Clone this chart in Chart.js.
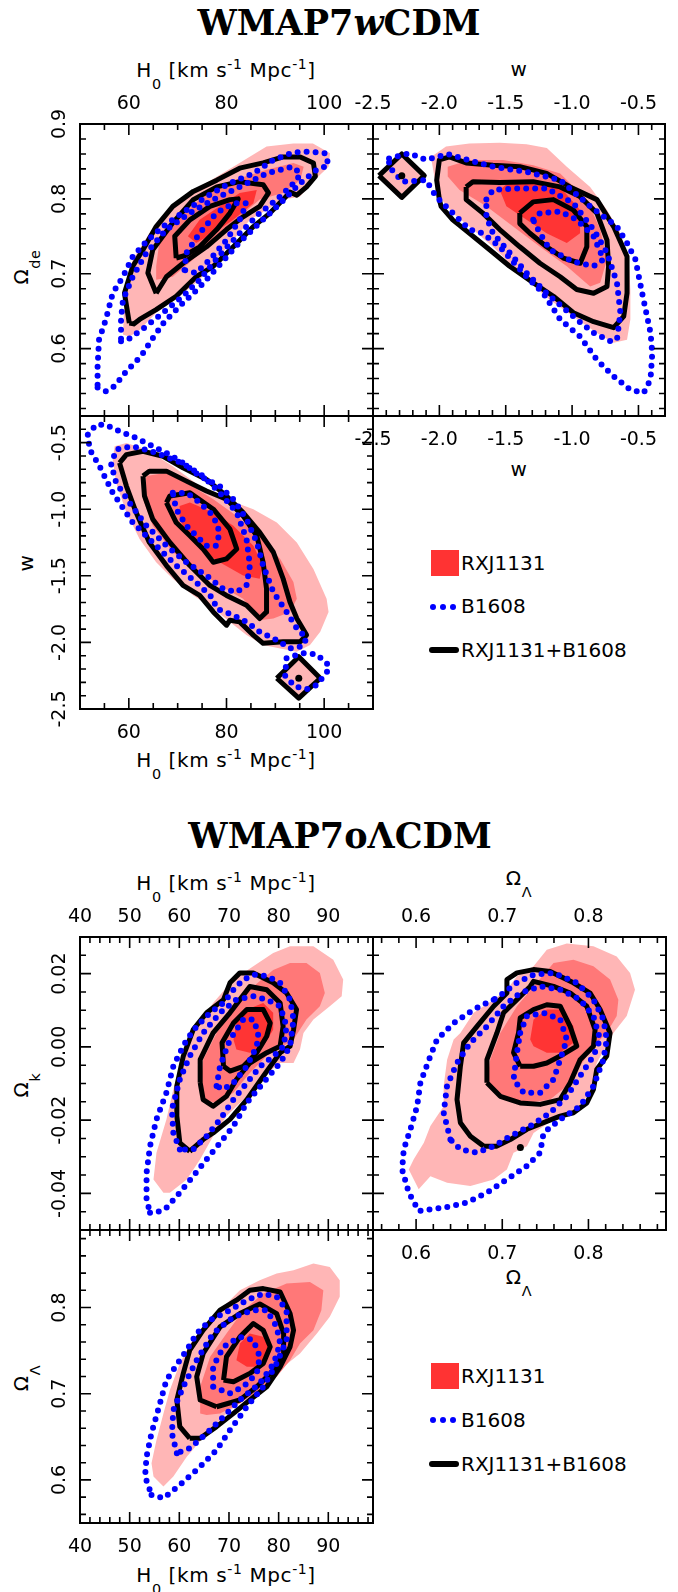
<!DOCTYPE html>
<html>
<head>
<meta charset="utf-8">
<script src="https://cdn.jsdelivr.net/npm/chart.js@4.4.1/dist/chart.umd.min.js"></script>
<style>
html, body { margin: 0; padding: 0; background: #fff; }
body { width: 678px; height: 1592px; position: relative; overflow: hidden; font-family: "DejaVu Sans", sans-serif; color: #000; }
canvas { position: absolute; }
.t { position: absolute; white-space: nowrap; line-height: 1; transform: translate(-50%, -50%); }
.title { font-family: "DejaVu Serif", serif; font-weight: bold; font-size: 35px; }
.ax { font-size: 20px; letter-spacing: 0.6px; }
.rot { transform: translate(-50%, -50%) rotate(-90deg); }
.lt { transform: translate(0, -50%); font-size: 20px; }
.sb { position: relative; top: 0.85em; font-size: 0.72em; }
.sp { position: relative; top: -0.55em; font-size: 0.7em; }
.sq { position: absolute; width: 28px; height: 26px; background: #ff3333; }
.dot { position: absolute; width: 6px; height: 6px; border-radius: 3px; background: #0000ff; }
.bar { position: absolute; width: 30px; height: 5.5px; border-radius: 3px; background: #000; }
</style>
</head>
<body>

<div class="t title" style="left:339px;top:22px">WMAP7<i>w</i>CDM</div>
<div class="t title" style="left:340px;top:835px">WMAP7oΛCDM</div>

<!-- axis titles, top figure -->
<div class="t ax" style="left:226px;top:70px">H<span class="sb">0</span> [km s<span class="sp">-1</span> Mpc<span class="sp">-1</span>]</div>
<div class="t ax" style="left:519px;top:69px">w</div>
<div class="t ax" style="left:519px;top:469px">w</div>
<div class="t ax" style="left:226px;top:760px">H<span class="sb">0</span> [km s<span class="sp">-1</span> Mpc<span class="sp">-1</span>]</div>
<div class="t ax rot" style="left:21px;top:267px">Ω<span class="sb">de</span></div>
<div class="t ax rot" style="left:26px;top:563px">w</div>

<!-- axis titles, bottom figure -->
<div class="t ax" style="left:226px;top:883px">H<span class="sb">0</span> [km s<span class="sp">-1</span> Mpc<span class="sp">-1</span>]</div>
<div class="t ax" style="left:519px;top:878px">Ω<span class="sb">Λ</span></div>
<div class="t ax" style="left:519px;top:1277px">Ω<span class="sb">Λ</span></div>
<div class="t ax" style="left:226px;top:1575px">H<span class="sb">0</span> [km s<span class="sp">-1</span> Mpc<span class="sp">-1</span>]</div>
<div class="t ax rot" style="left:21px;top:1085px">Ω<span class="sb">k</span></div>
<div class="t ax rot" style="left:21px;top:1378px">Ω<span class="sb">Λ</span></div>

<!-- legends -->
<div class="sq" style="left:431px;top:550px"></div>
<div class="t lt" style="left:461px;top:563px">RXJ1131</div>
<div class="dot" style="left:430px;top:604px"></div>
<div class="dot" style="left:440px;top:604px"></div>
<div class="dot" style="left:450px;top:604px"></div>
<div class="t lt" style="left:461px;top:606px">B1608</div>
<div class="bar" style="left:429px;top:647px"></div>
<div class="t lt" style="left:461px;top:650px">RXJ1131+B1608</div>

<div class="sq" style="left:431px;top:1363px"></div>
<div class="t lt" style="left:461px;top:1376px">RXJ1131</div>
<div class="dot" style="left:430px;top:1417px"></div>
<div class="dot" style="left:440px;top:1417px"></div>
<div class="dot" style="left:450px;top:1417px"></div>
<div class="t lt" style="left:461px;top:1420px">B1608</div>
<div class="bar" style="left:429px;top:1461px"></div>
<div class="t lt" style="left:461px;top:1464px">RXJ1131+B1608</div>

<canvas id="pA"></canvas>
<canvas id="pB"></canvas>
<canvas id="pC"></canvas>
<canvas id="pD"></canvas>
<canvas id="pE"></canvas>
<canvas id="pF"></canvas>

<script>
// Major tick labels
const H0_MAJOR_W = [60, 80, 100];
const ODE_MAJOR = [0.6, 0.7, 0.8, 0.9];
const W_MAJOR = [-2.5, -2.0, -1.5, -1.0, -0.5];
const H0_MAJOR_O = [40, 50, 60, 70, 80, 90];
const OK_MAJOR = [-0.04, -0.02, 0.0, 0.02];
const OL_MAJOR = [0.6, 0.7, 0.8];

// Contours: RX = RXJ1131 (filled), B = B1608 (dotted), C = combined (solid); 1 = inner, 3 = outer
// WMAP7wCDM: H0 vs Omega_de
const A_RX1 = [[72.1,0.750],[74.5,0.772],[78.6,0.790],[82.7,0.808],[86.2,0.812],[85.5,0.794],[81.4,0.772],[77.3,0.754],[73.8,0.741]];
const A_RX2 = [[65.6,0.692],[65.6,0.710],[66.3,0.745],[70.4,0.776],[75.2,0.803],[81.4,0.825],[88.2,0.839],[93.7,0.848],[95.8,0.843],[95.1,0.825],[91.6,0.808],[86.8,0.799],[82.7,0.776],[78.0,0.750],[73.2,0.719],[69.0,0.696]];
const A_RX3 = [[58.8,0.619],[59.1,0.665],[60.8,0.719],[64.2,0.754],[69.0,0.790],[74.5,0.816],[81.4,0.843],[88.2,0.870],[93.7,0.874],[97.7,0.874],[101.2,0.861],[100.9,0.843],[98.0,0.825],[95.0,0.803],[91.6,0.799],[88.2,0.785],[84.8,0.772],[81.4,0.745],[77.3,0.714],[74.5,0.692],[70.4,0.670],[65.6,0.648],[62.2,0.625],[60.1,0.616]];
const A_B1 = [[71.4,0.705],[71.8,0.728],[74.5,0.754],[77.9,0.781],[81.4,0.794],[84.1,0.794],[82.7,0.772],[80.0,0.745],[76.6,0.719],[73.8,0.701]];
const A_B2 = [[58.4,0.610],[59.8,0.612],[63.6,0.630],[67.0,0.648],[71.1,0.670],[74.5,0.692],[78.6,0.725],[82.7,0.754],[86.8,0.781],[90.3,0.799],[94.4,0.825],[95.1,0.834],[93.5,0.843],[88.2,0.834],[82.7,0.816],[77.3,0.799],[72.5,0.781],[67.7,0.759],[63.6,0.728],[60.8,0.696],[58.8,0.665],[58.4,0.639]];
const A_B3 = [[53.6,0.548],[55.3,0.543],[57.1,0.550],[59.5,0.570],[61.5,0.583],[62.9,0.594],[64.9,0.614],[67.3,0.636],[71.1,0.661],[74.5,0.682],[78.6,0.712],[82.7,0.742],[86.8,0.768],[91.0,0.794],[95.1,0.821],[98.5,0.839],[100.9,0.845],[100.2,0.861],[97.1,0.863],[93.7,0.862],[89.6,0.852],[85.5,0.834],[80.7,0.821],[75.9,0.803],[71.8,0.785],[67.0,0.763],[63.6,0.743],[60.8,0.723],[58.8,0.696],[56.7,0.674],[55.3,0.639],[53.9,0.612],[53.6,0.576]];
const A_C1 = [[69.7,0.721],[69.4,0.750],[72.5,0.772],[76.6,0.790],[80.7,0.799],[82.4,0.800],[80.7,0.781],[78.0,0.759],[74.5,0.736],[71.4,0.724]];
const A_C2 = [[65.6,0.674],[63.9,0.701],[64.9,0.732],[69.0,0.768],[73.2,0.799],[78.0,0.816],[82.7,0.823],[87.5,0.819],[88.6,0.808],[86.8,0.790],[83.4,0.776],[80.0,0.759],[75.9,0.736],[71.1,0.714],[67.7,0.696]];
const A_C3 = [[60.1,0.634],[59.1,0.674],[60.8,0.710],[62.9,0.732],[65.6,0.763],[69.0,0.790],[73.2,0.810],[78.0,0.825],[82.7,0.841],[87.5,0.848],[91.6,0.856],[95.1,0.856],[97.8,0.848],[98.2,0.830],[96.4,0.816],[94.4,0.805],[93.0,0.809],[91.6,0.799],[88.9,0.781],[85.5,0.763],[81.4,0.736],[77.3,0.710],[73.8,0.696],[69.7,0.670],[65.6,0.652],[62.2,0.639],[61.0,0.633]];

// WMAP7wCDM: w vs Omega_de
const B_RX1 = [[-1.545,0.812],[-1.47,0.823],[-1.293,0.825],[-1.09,0.816],[-0.94,0.785],[-0.94,0.754],[-1.04,0.741],[-1.192,0.754],[-1.343,0.772],[-1.495,0.790]];
const B_RX2 = [[-1.937,0.843],[-1.773,0.852],[-1.52,0.852],[-1.293,0.845],[-1.09,0.834],[-0.889,0.799],[-0.788,0.759],[-0.737,0.719],[-0.788,0.688],[-0.864,0.683],[-1.04,0.710],[-1.242,0.736],[-1.444,0.763],[-1.646,0.790],[-1.848,0.812],[-1.937,0.830]];
const B_RX3 = [[-2.063,0.856],[-1.95,0.870],[-1.773,0.874],[-1.545,0.875],[-1.343,0.873],[-1.19,0.868],[-1.04,0.843],[-0.864,0.816],[-0.737,0.785],[-0.636,0.754],[-0.573,0.719],[-0.561,0.679],[-0.561,0.639],[-0.586,0.612],[-0.687,0.608],[-0.813,0.621],[-0.99,0.643],[-1.167,0.665],[-1.343,0.692],[-1.47,0.714],[-1.596,0.736],[-1.747,0.759],[-1.9,0.781],[-2.0,0.803],[-2.038,0.830]];
const B_RX_ISL = [[-2.43,0.831],[-2.283,0.856],[-2.14,0.831],[-2.283,0.806]];
const B_B1 = [[-1.293,0.772],[-1.242,0.781],[-1.09,0.783],[-0.965,0.772],[-0.838,0.750],[-0.763,0.719],[-0.838,0.710],[-0.99,0.716],[-1.167,0.732],[-1.242,0.754]];
const B_B2 = [[-1.646,0.799],[-1.596,0.812],[-1.419,0.814],[-1.192,0.814],[-0.99,0.794],[-0.838,0.759],[-0.737,0.728],[-0.662,0.688],[-0.636,0.648],[-0.662,0.612],[-0.712,0.610],[-0.838,0.621],[-0.965,0.639],[-1.192,0.674],[-1.343,0.701],[-1.47,0.728],[-1.596,0.754],[-1.646,0.776]];
const B_B3 = [[-2.379,0.854],[-2.227,0.861],[-2.101,0.852],[-1.937,0.860],[-1.75,0.850],[-1.596,0.843],[-1.343,0.836],[-1.09,0.825],[-0.864,0.790],[-0.662,0.763],[-0.586,0.741],[-0.523,0.719],[-0.472,0.674],[-0.409,0.621],[-0.396,0.594],[-0.409,0.559],[-0.46,0.541],[-0.561,0.545],[-0.687,0.563],[-0.813,0.585],[-0.939,0.616],[-1.09,0.639],[-1.217,0.674],[-1.343,0.696],[-1.545,0.736],[-1.672,0.754],[-1.773,0.759],[-1.899,0.781],[-2.025,0.803],[-2.1,0.825],[-2.278,0.823],[-2.379,0.843]];
const B_C1 = [[-1.394,0.781],[-1.293,0.796],[-1.141,0.799],[-0.99,0.785],[-0.889,0.763],[-0.889,0.736],[-0.939,0.714],[-1.066,0.721],[-1.192,0.736],[-1.318,0.754],[-1.394,0.767]];
const B_C2 = [[-1.798,0.816],[-1.747,0.823],[-1.545,0.822],[-1.293,0.823],[-1.09,0.816],[-0.94,0.803],[-0.813,0.781],[-0.737,0.745],[-0.725,0.710],[-0.737,0.683],[-0.838,0.674],[-0.965,0.679],[-1.09,0.696],[-1.242,0.714],[-1.394,0.736],[-1.545,0.759],[-1.672,0.781],[-1.798,0.799]];
const B_C3 = [[-2.0,0.799],[-2.02,0.825],[-2.0,0.852],[-1.924,0.856],[-1.798,0.848],[-1.596,0.845],[-1.394,0.843],[-1.192,0.834],[-1.015,0.816],[-0.813,0.799],[-0.687,0.763],[-0.586,0.723],[-0.586,0.674],[-0.611,0.643],[-0.687,0.628],[-0.838,0.636],[-0.99,0.648],[-1.141,0.670],[-1.293,0.688],[-1.47,0.710],[-1.621,0.732],[-1.773,0.754],[-1.899,0.772],[-1.987,0.790]];
const B_C_ISL = [[-2.455,0.831],[-2.283,0.860],[-2.114,0.831],[-2.283,0.802]];
const B_DOT = [[-2.283,0.831]];

// WMAP7wCDM: H0 vs w
const C_RX1 = [[70.4,-0.975],[72.5,-0.95],[77.3,-1.025],[81.4,-1.124],[85.5,-1.274],[87.5,-1.423],[86.8,-1.522],[83.4,-1.498],[78.6,-1.398],[74.5,-1.299],[71.8,-1.174],[70.4,-1.075]];
const C_RX2 = [[63.6,-0.751],[67.7,-0.726],[71.8,-0.801],[77.3,-0.925],[82.1,-1.05],[86.8,-1.199],[91.0,-1.373],[93.7,-1.547],[94.4,-1.672],[93.0,-1.771],[89.6,-1.821],[86.8,-1.833],[83.4,-1.672],[78.6,-1.572],[73.8,-1.448],[69.0,-1.323],[64.9,-1.124],[62.9,-0.925]];
const C_RX3 = [[57.1,-0.527],[59.5,-0.502],[63.6,-0.552],[69.0,-0.677],[74.5,-0.826],[80.0,-0.925],[85.5,-1.0],[90.3,-1.1],[94.4,-1.249],[97.8,-1.448],[100.5,-1.672],[100.9,-1.771],[99.2,-1.92],[97.1,-2.02],[94.4,-2.07],[91.0,-2.045],[87.5,-2.02],[84.1,-1.945],[80.7,-1.846],[77.3,-1.746],[73.2,-1.647],[69.0,-1.522],[65.6,-1.398],[62.2,-1.224],[59.5,-1.025],[57.4,-0.801],[56.7,-0.627]];
const C_RX_ISL = [[90.8,-2.269],[94.8,-2.13],[98.8,-2.269],[94.8,-2.40]];
const C_B1 = [[69.0,-0.876],[72.0,-0.88],[74.5,-0.95],[77.3,-1.05],[78.6,-1.174],[77.9,-1.274],[75.9,-1.274],[73.8,-1.199],[71.8,-1.124],[69.7,-1.0]];
const C_B2 = [[56.4,-0.664],[57.4,-0.552],[60.8,-0.527],[65.6,-0.577],[70.8,-0.652],[75.2,-0.751],[78.6,-0.876],[82.1,-1.025],[84.1,-1.224],[84.8,-1.423],[84.1,-1.572],[82.1,-1.622],[79.3,-1.597],[75.9,-1.498],[71.8,-1.398],[67.7,-1.274],[63.6,-1.124],[60.1,-0.95],[57.4,-0.801]];
const C_B3 = [[51.6,-0.44],[53.3,-0.366],[55.3,-0.366],[58.1,-0.415],[60.8,-0.453],[64.0,-0.51],[67.7,-0.577],[71.1,-0.652],[74.5,-0.751],[78.6,-0.826],[81.4,-0.925],[84.1,-1.075],[86.2,-1.249],[87.5,-1.423],[89.6,-1.622],[92.3,-1.771],[94.4,-1.895],[96.4,-1.97],[95.5,-2.03],[93.0,-2.045],[90.3,-1.983],[86.8,-1.921],[84.1,-1.846],[81.4,-1.796],[77.9,-1.746],[77.3,-1.672],[74.5,-1.572],[69.7,-1.423],[64.9,-1.249],[60.8,-1.1],[56.7,-0.876],[54.0,-0.677],[52.0,-0.552]];
const C_B_ISL = [[92.3,-2.119],[95.5,-2.08],[98.5,-2.09],[100.9,-2.17],[100.6,-2.22],[98.5,-2.32],[96.5,-2.35],[94.0,-2.33],[92.0,-2.25]];
const C_C1 = [[67.7,-0.95],[68.4,-0.9],[72.5,-0.876],[77.3,-1.0],[80.7,-1.149],[82.1,-1.299],[80.0,-1.373],[77.3,-1.398],[75.2,-1.299],[72.5,-1.199],[69.7,-1.1]];
const C_C2 = [[62.9,-0.751],[64.2,-0.714],[67.7,-0.714],[71.8,-0.789],[75.9,-0.863],[80.0,-0.925],[83.4,-1.05],[86.2,-1.199],[87.5,-1.398],[88.2,-1.597],[88.2,-1.771],[86.8,-1.821],[84.1,-1.721],[80.0,-1.647],[76.6,-1.572],[72.5,-1.423],[68.4,-1.249],[64.9,-1.075],[63.2,-0.9]];
const C_C3 = [[58.1,-0.652],[59.5,-0.59],[62.9,-0.565],[67.0,-0.602],[71.1,-0.689],[75.9,-0.776],[80.0,-0.9],[83.4,-1.025],[86.8,-1.174],[89.6,-1.323],[91.6,-1.522],[93.0,-1.697],[94.4,-1.821],[96.4,-1.945],[95.1,-1.995],[91.6,-1.995],[87.5,-2.007],[85.5,-1.945],[82.7,-1.846],[80.7,-1.833],[80.0,-1.871],[77.3,-1.771],[74.5,-1.647],[71.1,-1.572],[67.7,-1.423],[64.2,-1.249],[61.5,-1.025],[59.5,-0.826]];
const C_C_ISL = [[90.3,-2.269],[94.8,-2.107],[99.2,-2.269],[94.8,-2.418]];
const C_DOT = [[94.8,-2.269]];

// WMAP7oLCDM: H0 vs Omega_k
const D_RX1 = [[70.9,0.002],[71.5,0.0065],[73.6,0.0102],[76.9,0.012],[78.9,0.0093],[78.9,0.0047],[76.9,0.0002],[74.2,-0.0016],[71.5,-0.0007]];
const D_RX2 = [[64.2,-0.0116],[64.8,-0.0035],[67.5,0.0038],[70.9,0.0111],[74.9,0.0165],[78.9,0.021],[82.3,0.0229],[85.6,0.0229],[88.3,0.0202],[89.3,0.0147],[88.3,0.0111],[85.6,0.0075],[83.0,0.002],[80.9,0.0002],[77.6,-0.0025],[74.2,-0.0071],[70.9,-0.0125],[67.5,-0.0153],[64.8,-0.0144]];
const D_RX3 = [[56.8,-0.0398],[54.8,-0.0362],[55.4,-0.0289],[57.4,-0.0198],[58.8,-0.0116],[60.8,-0.0016],[63.5,0.0056],[66.8,0.012],[70.9,0.0184],[74.9,0.022],[78.9,0.0256],[82.3,0.0275],[87.0,0.0275],[91.0,0.0238],[93.0,0.0184],[92.7,0.0138],[90.3,0.0111],[87.0,0.0075],[85.0,0.0038],[84.3,-0.0007],[83.0,-0.0044],[80.3,-0.0044],[76.9,-0.008],[73.6,-0.0135],[69.5,-0.0189],[66.8,-0.0244],[64.2,-0.0307],[61.5,-0.0362],[58.1,-0.0398]];
const D_B1 = [[67.5,-0.0107],[68.2,-0.0053],[70.2,0.002],[72.9,0.0075],[74.9,0.0075],[75.9,0.0038],[75.6,0.0002],[73.6,-0.0053],[70.9,-0.0098],[68.9,-0.0116]];
const D_B2 = [[60.1,-0.028],[58.8,-0.0235],[58.5,-0.0171],[60.1,-0.0089],[62.1,-0.0025],[64.8,0.0038],[68.2,0.0093],[71.5,0.0129],[74.9,0.0138],[77.6,0.0129],[80.3,0.0111],[81.6,0.0056],[81.0,0.0002],[79.0,-0.0025],[76.3,-0.0053],[73.6,-0.0098],[70.9,-0.0144],[68.2,-0.0198],[65.5,-0.0244],[62.8,-0.028]];
const D_B3 = [[54.1,-0.0453],[55.4,-0.0453],[57.4,-0.0439],[60.1,-0.0398],[62.8,-0.0353],[65.5,-0.0307],[68.2,-0.0262],[70.9,-0.0216],[73.6,-0.0153],[76.9,-0.0098],[80.3,-0.0044],[82.3,0.0002],[83.0,0.0075],[82.3,0.0129],[80.3,0.0175],[77.6,0.0193],[75.2,0.0197],[72.9,0.0184],[70.9,0.0156],[68.9,0.012],[66.2,0.0093],[63.5,0.0056],[61.5,0.002],[60.1,-0.0016],[58.8,-0.0053],[57.4,-0.0125],[55.4,-0.0198],[54.1,-0.0271],[53.4,-0.0344],[53.4,-0.0416]];
const D_C1 = [[68.9,-0.0053],[68.6,0.0011],[70.9,0.0065],[73.6,0.0102],[76.9,0.0102],[78.3,0.0065],[77.6,0.0029],[75.6,-0.0016],[72.9,-0.0053],[70.2,-0.0066]];
const D_C2 = [[64.2,-0.0098],[64.2,-0.0035],[66.8,0.0038],[70.2,0.0093],[72.2,0.0129],[74.2,0.0165],[77.6,0.0156],[80.3,0.012],[80.9,0.0056],[80.3,0.0002],[77.6,-0.0016],[74.2,-0.0044],[71.5,-0.0089],[69.5,-0.0135],[66.8,-0.0162],[64.8,-0.0144]];
const D_C3 = [[62.1,-0.0285],[60.1,-0.0262],[59.5,-0.0189],[59.5,-0.0107],[60.8,-0.0025],[62.8,0.0047],[65.5,0.0093],[68.9,0.0129],[70.2,0.0175],[72.2,0.0202],[74.9,0.0202],[78.9,0.0175],[81.6,0.0147],[83.6,0.0102],[83.0,0.0047],[82.3,0.0002],[80.3,-0.0016],[76.9,-0.008],[73.6,-0.0144],[70.2,-0.0198],[66.8,-0.0235],[64.8,-0.0253]];

// WMAP7oLCDM: Omega_Lambda vs Omega_k
const E_RX1 = [[0.7324,0.002],[0.7363,0.0075],[0.7517,0.0102],[0.7672,0.0102],[0.7826,0.0056],[0.7826,0.0011],[0.7672,-0.0016],[0.7517,-0.0016],[0.7363,0.0002]];
const E_RX2 = [[0.6822,-0.0098],[0.686,-0.0035],[0.6977,0.0038],[0.717,0.0111],[0.7363,0.0165],[0.7595,0.0229],[0.7826,0.0238],[0.8058,0.022],[0.8251,0.0184],[0.8347,0.0129],[0.8328,0.0084],[0.8212,0.0038],[0.8058,0.0002],[0.7903,-0.0053],[0.7749,-0.0107],[0.7556,-0.0144],[0.7286,-0.0153],[0.7054,-0.0144],[0.690,-0.0125]];
const E_RX3 = [[0.5915,-0.0335],[0.603,-0.0389],[0.6166,-0.0353],[0.636,-0.0371],[0.663,-0.038],[0.690,-0.0362],[0.7054,-0.0335],[0.7131,-0.0289],[0.7286,-0.0271],[0.7363,-0.0235],[0.7595,-0.0198],[0.7826,-0.018],[0.8019,-0.0125],[0.8096,-0.0044],[0.829,0.0038],[0.8444,0.0084],[0.854,0.0156],[0.8483,0.0202],[0.8328,0.0247],[0.8058,0.0275],[0.7749,0.0282],[0.7517,0.0265],[0.7363,0.022],[0.717,0.0193],[0.7054,0.0156],[0.690,0.0129],[0.6668,0.0093],[0.6514,0.0038],[0.6436,0.002],[0.636,-0.0035],[0.632,-0.0107],[0.632,-0.0162],[0.6166,-0.0216],[0.609,-0.0262],[0.5973,-0.0307]];
const E_B1 = [[0.7208,0.0038],[0.7286,0.0084],[0.7479,0.0093],[0.7672,0.0075],[0.7749,0.002],[0.7672,-0.0035],[0.7595,-0.0089],[0.744,-0.0125],[0.7247,-0.0125],[0.7131,-0.0089],[0.717,-0.0016]];
const E_B2 = [[0.6398,-0.0253],[0.632,-0.018],[0.6359,-0.0107],[0.6475,-0.0044],[0.663,0.0011],[0.6822,0.0056],[0.7015,0.0111],[0.7208,0.0147],[0.744,0.0165],[0.7672,0.0156],[0.7903,0.0129],[0.8058,0.0084],[0.8135,0.002],[0.8058,-0.0025],[0.7903,-0.008],[0.7749,-0.0135],[0.7556,-0.018],[0.7324,-0.0216],[0.7093,-0.0244],[0.690,-0.0271],[0.6707,-0.0289],[0.6514,-0.028]];
const E_B3 = [[0.69,0.0129],[0.6668,0.0102],[0.6436,0.0065],[0.6243,0.002],[0.6166,-0.0025],[0.605,-0.0098],[0.6012,-0.0162],[0.5934,-0.0225],[0.5857,-0.028],[0.5838,-0.0335],[0.5915,-0.0398],[0.6031,-0.0448],[0.6321,-0.0439],[0.6591,-0.0425],[0.6822,-0.0398],[0.7054,-0.0362],[0.7286,-0.0325],[0.744,-0.0289],[0.7479,-0.0235],[0.7672,-0.0198],[0.7903,-0.0162],[0.8058,-0.0107],[0.8174,-0.0035],[0.8212,0.002],[0.8174,0.0075],[0.8058,0.0129],[0.7865,0.0175],[0.7595,0.0202],[0.7363,0.0197],[0.717,0.0175],[0.7015,0.0147]];
const E_C1 = [[0.7208,-0.0053],[0.7131,-0.0016],[0.7189,0.0038],[0.7208,0.0079],[0.7363,0.0102],[0.7517,0.0115],[0.7672,0.0111],[0.7788,0.0056],[0.7865,0.0002],[0.7672,-0.0025],[0.7517,-0.0044],[0.7363,-0.0053]];
const E_C2 = [[0.6822,-0.0098],[0.6822,-0.0035],[0.6938,0.0038],[0.7015,0.0093],[0.717,0.0129],[0.7324,0.0165],[0.7363,0.0179],[0.7595,0.0165],[0.7788,0.0147],[0.7981,0.0111],[0.8077,0.0047],[0.8058,0.0002],[0.7903,-0.0035],[0.7788,-0.0098],[0.7672,-0.0144],[0.744,-0.0157],[0.7208,-0.0153],[0.6977,-0.0135]];
const E_C3 = [[0.6784,-0.0271],[0.663,-0.0244],[0.6514,-0.0207],[0.6475,-0.0144],[0.6514,-0.0053],[0.6552,0.0011],[0.6707,0.0056],[0.690,0.0111],[0.7054,0.0147],[0.7054,0.0184],[0.717,0.0202],[0.7363,0.0211],[0.7556,0.0206],[0.7826,0.0175],[0.8019,0.0147],[0.8135,0.0102],[0.8251,0.0038],[0.8212,-0.0025],[0.8096,-0.0062],[0.8058,-0.0116],[0.7981,-0.0153],[0.7826,-0.018],[0.7672,-0.0189],[0.7479,-0.0207],[0.7286,-0.0225],[0.7093,-0.0253],[0.6938,-0.0271]];
const E_DOT = [[0.721,-0.0275]];

// WMAP7oLCDM: H0 vs Omega_Lambda
const F_RX1 = [[71.5,0.739],[72.2,0.7583],[74.2,0.7699],[76.9,0.766],[78.3,0.7506],[77.6,0.739],[75.6,0.7313],[73.6,0.7313]];
const F_RX2 = [[64.2,0.6772],[64.2,0.7081],[66.2,0.7429],[69.5,0.7699],[72.9,0.7969],[76.9,0.8162],[81.6,0.8278],[86.3,0.8297],[89.0,0.8201],[88.6,0.7969],[87.0,0.7737],[84.3,0.7583],[82.3,0.739],[79.6,0.7197],[76.2,0.7042],[72.2,0.6888],[68.2,0.6772],[65.5,0.6753]];
const F_RX3 = [[54.8,0.6039],[56.8,0.5923],[58.8,0.6039],[61.5,0.627],[65.5,0.654],[69.5,0.6772],[73.6,0.6965],[77.6,0.7158],[81.0,0.7313],[84.3,0.7467],[87.7,0.7699],[90.3,0.7892],[92.3,0.8124],[92.3,0.8317],[90.3,0.8471],[87.0,0.851],[83.0,0.8432],[79.6,0.8394],[76.2,0.8317],[72.2,0.8201],[68.2,0.7969],[64.8,0.7776],[62.2,0.7583],[60.1,0.7351],[58.1,0.7042],[56.8,0.6772],[55.4,0.6463],[54.4,0.6193]];
const F_B1 = [[66.8,0.7081],[66.8,0.7313],[68.9,0.7544],[72.2,0.766],[74.9,0.7622],[76.2,0.7429],[75.6,0.7236],[72.9,0.7081],[70.2,0.7004]];
const F_B2 = [[59.5,0.6309],[58.5,0.6541],[58.8,0.6811],[60.8,0.7081],[63.5,0.739],[66.8,0.7699],[70.9,0.7892],[74.9,0.7969],[77.6,0.7969],[79.6,0.7776],[80.3,0.7583],[79.0,0.7351],[76.2,0.712],[72.2,0.6927],[68.9,0.6734],[65.5,0.654],[62.1,0.6367]];
const F_B3 = [[54.4,0.5826],[56.8,0.5788],[60.1,0.5942],[64.2,0.6154],[67.5,0.6347],[70.2,0.6579],[73.6,0.6849],[76.9,0.7081],[79.6,0.7351],[81.6,0.7622],[81.6,0.7969],[79.6,0.8124],[76.9,0.8162],[73.6,0.8085],[70.2,0.7969],[66.2,0.7853],[63.5,0.7699],[61.5,0.7506],[60.1,0.739],[57.4,0.7158],[56.1,0.6888],[54.4,0.6541],[53.4,0.627],[53.1,0.6039]];
const F_C1 = [[68.9,0.7158],[69.5,0.7429],[72.2,0.766],[74.9,0.7815],[76.9,0.7737],[78.3,0.7544],[76.9,0.7351],[74.2,0.7236],[70.9,0.7139]];
const F_C2 = [[67.5,0.6849],[64.2,0.6927],[63.5,0.7197],[64.8,0.7467],[68.2,0.7776],[72.2,0.793],[76.2,0.8042],[79.6,0.793],[81.0,0.7699],[81.0,0.7467],[79.0,0.7274],[75.6,0.7081],[72.2,0.6927]];
const F_C3 = [[62.1,0.6483],[60.1,0.6618],[59.5,0.6927],[60.8,0.7236],[62.1,0.7506],[64.8,0.7737],[68.2,0.7969],[71.5,0.8085],[74.2,0.8201],[76.9,0.822],[80.3,0.8181],[82.3,0.7931],[83.0,0.7737],[82.3,0.7544],[80.3,0.7313],[77.6,0.7081],[74.2,0.6927],[70.9,0.6772],[67.5,0.6618],[64.2,0.6483]];

const PINK1 = '#ff3434';
const PINK2 = '#ff7878';
const PINK3 = '#ffb6b6';
const M = 90; // canvas margin round each frame

Chart.defaults.font.family = '"DejaVu Sans", sans-serif';
Chart.defaults.color = '#000';

function closed(pts) {
  return pts.concat([pts[0]]).map(p => ({x: p[0], y: p[1]}));
}
function area(pts, color, order) {
  return {data: closed(pts), fill: 'shape', backgroundColor: color, borderWidth: 0, pointRadius: 0, order: order};
}
function solid(pts) {
  return {data: closed(pts), fill: false, borderColor: '#000', borderWidth: 5, borderJoinStyle: 'round', pointRadius: 0, order: 2};
}
function dotted(pts) {
  return {data: closed(pts), fill: false, borderColor: '#0000ff', borderWidth: 6, borderDash: [0, 9], borderCapStyle: 'round', pointRadius: 0, order: 1};
}
function marker(pts) {
  return {data: pts.map(p => ({x: p[0], y: p[1]})), showLine: false, pointRadius: 3.5, pointBackgroundColor: '#000', pointBorderWidth: 0, order: 0};
}
function contours(rx, bl, cb) {
  return [area(rx[2], PINK3, 6), area(rx[1], PINK2, 5), area(rx[0], PINK1, 4)]
    .concat(cb.map(solid), bl.map(dotted));
}

function stepTicks(min, max, step) {
  const out = [];
  for (let k = Math.ceil(min / step - 1e-9); k * step <= max + 1e-9; k++) out.push({value: +(k * step).toFixed(6)});
  return out;
}
function isMajor(v, list) {
  return list.some(m => Math.abs(m - v) < 1e-6);
}

// frame, inward ticks on all four sides, rotated y labels
function frameTicks(ax, ay, yLabels) {
  return {
    id: 'frameTicks',
    afterDraw(chart) {
      const {ctx, chartArea: a} = chart;
      const xs = chart.scales.x, ys = chart.scales.y;
      ctx.save();
      ctx.strokeStyle = '#000';
      ctx.lineWidth = 1.6;
      ctx.beginPath();
      xs.ticks.forEach(t => {
        const px = xs.getPixelForValue(t.value);
        const len = isMajor(t.value, ax.major) ? 11 : 6;
        ctx.moveTo(px, a.top); ctx.lineTo(px, a.top + len);
        ctx.moveTo(px, a.bottom); ctx.lineTo(px, a.bottom - len);
      });
      ys.ticks.forEach(t => {
        const py = ys.getPixelForValue(t.value);
        const len = isMajor(t.value, ay.major) ? 11 : 6;
        ctx.moveTo(a.left, py); ctx.lineTo(a.left + len, py);
        ctx.moveTo(a.right, py); ctx.lineTo(a.right - len, py);
      });
      ctx.stroke();
      ctx.lineWidth = 2;
      ctx.strokeRect(a.left, a.top, a.right - a.left, a.bottom - a.top);
      if (yLabels) {
        ctx.fillStyle = '#000';
        ctx.font = '19px "DejaVu Sans"';
        ctx.textAlign = 'center';
        ctx.textBaseline = 'middle';
        ys.ticks.forEach(t => {
          if (!isMajor(t.value, ay.major)) return;
          ctx.save();
          ctx.translate(a.left - 20, ys.getPixelForValue(t.value));
          ctx.rotate(-Math.PI / 2);
          ctx.fillText(t.value.toFixed(ay.dec), 0, 0);
          ctx.restore();
        });
      }
      ctx.restore();
    }
  };
}

function xScale(ax, position, show) {
  return {
    type: 'linear', position: position, min: ax.min, max: ax.max,
    afterFit: s => { s.height = M; },
    afterBuildTicks: s => { s.ticks = stepTicks(ax.min, ax.max, ax.minor); },
    ticks: {
      display: show, autoSkip: false, maxRotation: 0, minRotation: 0,
      padding: position === 'top' ? 9 : 12.5,
      font: {size: 19},
      callback: v => isMajor(v, ax.major) ? v.toFixed(ax.dec) : ''
    },
    grid: {display: false, drawTicks: false},
    border: {display: false}
  };
}

function makePanel(id, frame, ax, ay, show, datasets) {
  const [L, T, W, H] = frame;
  const cv = document.getElementById(id);
  cv.width = W + 2 * M;
  cv.height = H + 2 * M;
  cv.style.left = (L - M) + 'px';
  cv.style.top = (T - M) + 'px';
  return new Chart(cv, {
    type: 'line',
    data: {datasets: datasets},
    options: {
      responsive: false,
      animation: false,
      devicePixelRatio: 1,
      events: [],
      layout: {padding: {top: 0, right: M, bottom: 0, left: 0}},
      elements: {point: {radius: 0}, line: {tension: 0}},
      plugins: {legend: {display: false}, tooltip: {enabled: false}},
      scales: {
        x: xScale(ax, 'bottom', show.bottom),
        x2: xScale(ax, 'top', show.top),
        y: {
          type: 'linear', position: 'left', min: ay.min, max: ay.max,
          afterFit: s => { s.width = M; },
          afterBuildTicks: s => { s.ticks = stepTicks(ay.min, ay.max, ay.minor); },
          ticks: {display: false},
          grid: {display: false, drawTicks: false},
          border: {display: false}
        }
      }
    },
    plugins: [frameTicks(ax, ay, show.left)]
  });
}

const axH0w = {min: 50, max: 110, minor: 5, major: H0_MAJOR_W, dec: 0};
const axOde = {min: 0.51, max: 0.9, minor: 0.02, major: ODE_MAJOR, dec: 1};
const axW = {min: -2.5, max: -0.3, minor: 0.1, major: W_MAJOR, dec: 1};
const axH0o = {min: 40, max: 99, minor: 2, major: H0_MAJOR_O, dec: 0};
const axOk = {min: -0.05, max: 0.03, minor: 0.005, major: OK_MAJOR, dec: 2};
const axOL = {min: 0.55, max: 0.89, minor: 0.02, major: OL_MAJOR, dec: 1};

makePanel('pA', [80, 124, 293, 292], axH0w, axOde, {top: true, bottom: false, left: true},
  contours([A_RX1, A_RX2, A_RX3], [A_B1, A_B2, A_B3], [A_C1, A_C2, A_C3]));

makePanel('pB', [373, 124, 292, 292], axW, axOde, {top: true, bottom: true, left: false},
  [area(B_RX_ISL, PINK3, 6)].concat(
    contours([B_RX1, B_RX2, B_RX3], [B_B1, B_B2, B_B3], [B_C1, B_C2, B_C3, B_C_ISL]),
    [marker(B_DOT)]));

makePanel('pC', [80, 416, 293, 293], axH0w, axW, {top: false, bottom: true, left: true},
  [area(C_RX_ISL, PINK3, 6)].concat(
    contours([C_RX1, C_RX2, C_RX3], [C_B1, C_B2, C_B3, C_B_ISL], [C_C1, C_C2, C_C3, C_C_ISL]),
    [marker(C_DOT)]));

makePanel('pD', [80, 937, 293, 293], axH0o, axOk, {top: true, bottom: false, left: true},
  contours([D_RX1, D_RX2, D_RX3], [D_B1, D_B2, D_B3], [D_C1, D_C2, D_C3]));

makePanel('pE', [373, 937, 293, 293], axOL, axOk, {top: true, bottom: true, left: false},
  contours([E_RX1, E_RX2, E_RX3], [E_B1, E_B2, E_B3], [E_C1, E_C2, E_C3]).concat([marker(E_DOT)]));

makePanel('pF', [80, 1230, 293, 293], axH0o, axOL, {top: false, bottom: true, left: true},
  contours([F_RX1, F_RX2, F_RX3], [F_B1, F_B2, F_B3], [F_C1, F_C2, F_C3]));
</script>
</body>
</html>
